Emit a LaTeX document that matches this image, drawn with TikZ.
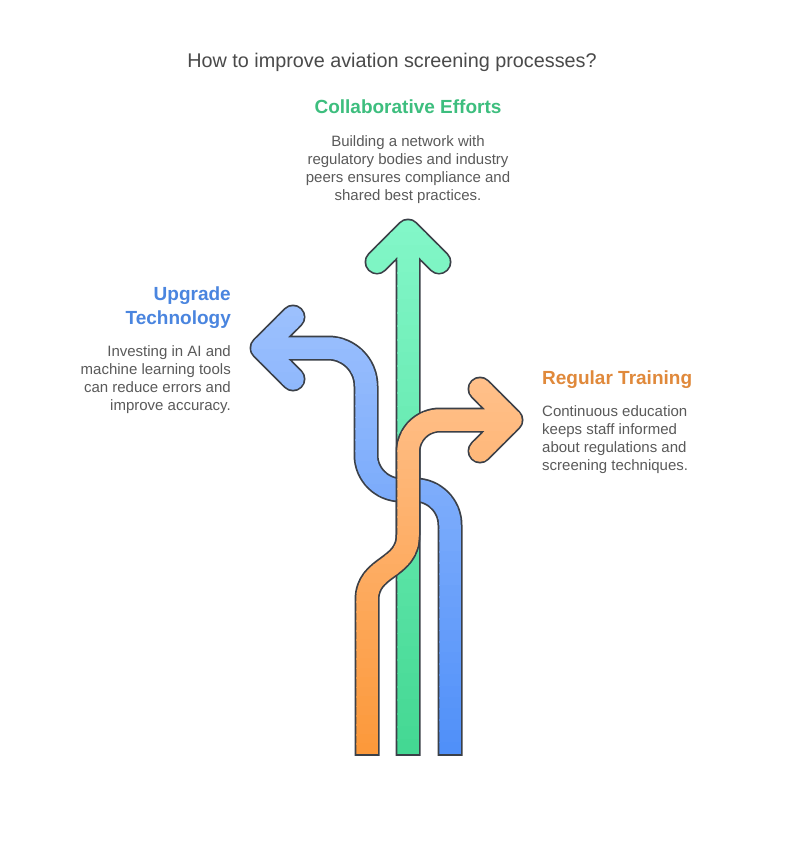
\documentclass[tikz,border=0pt]{standalone}
\usepackage{fontspec}
\setmainfont{Liberation Sans}
\definecolor{outl}{HTML}{3B4048}
\definecolor{gTop}{HTML}{82F7C8}
\definecolor{gBot}{HTML}{44D893}
\definecolor{bTop}{HTML}{9CC0FD}
\definecolor{bBot}{HTML}{5090F9}
\definecolor{oTop}{HTML}{FFC08A}
\definecolor{oBot}{HTML}{FC993B}
\definecolor{ttl}{HTML}{4A4A4A}
\definecolor{bodytxt}{HTML}{5A5A5A}
\definecolor{gHead}{HTML}{3DBE7E}
\definecolor{bHead}{HTML}{4A85DF}
\definecolor{oHead}{HTML}{E0893B}
\newcommand\arrowG[1]{\draw[#1] (377,262) -- (408,231) -- (439,262) (408,231) -- (408,775);}
\newcommand\arrowB[1]{\draw[#1] (293,317) -- (262,348) -- (293,379) (262,348) -- (328,348)
  .. controls (349,348) and (366,365) .. (366,386) -- (366,455)
  .. controls (366,474.3) and (381.7,490) .. (401,490) -- (415,490)
  .. controls (434.3,490) and (450,505.7) .. (450,525) -- (450,775);}
\newcommand\arrowO[1]{\draw[#1] (480,389) -- (511,420) -- (480,451) (511,420) -- (440,420)
  .. controls (422.3,420) and (408,434.3) .. (408,452) -- (408,535)
  .. controls (408,570) and (367,565) .. (367,600) -- (367,775);}
\newcommand\gradarrow[4]{%
  \begin{scope}
    \clip (0,0) rectangle (785,755);
    #1{draw=outl, line width=25pt, line cap=round, line join=round}
  \end{scope}
  \pgfmathsetmacro\stripH{(753.3-#4)/40}
  \foreach \i in {0,...,39}{%
    \pgfmathsetmacro\ya{#4+\i*\stripH}
    \pgfmathsetmacro\yb{min(\ya+\stripH+0.8,753.3)}
    \pgfmathtruncatemacro\pc{100*\i/39}
    \begin{scope}
      \clip (0,\ya) rectangle (785,\yb);
      #1{draw=#3!\pc!#2, line width=21.5pt, line cap=round, line join=round}
    \end{scope}
  }%
}
\tikzset{
  headtxt/.style={font=\fontsize{19}{24}\selectfont\bfseries, inner sep=0pt},
  bodystyle/.style={font=\fontsize{15}{18}\selectfont, text=bodytxt, inner sep=0pt},
}
\begin{document}
\begin{tikzpicture}[x=1pt,y=-1pt]
\fill[white] (0,0) rectangle (785,860);
\useasboundingbox (0,0) rectangle (785,860);
\gradarrow{\arrowG}{gTop}{gBot}{219}
\gradarrow{\arrowB}{bTop}{bBot}{305}
\gradarrow{\arrowO}{oTop}{oBot}{375}
\node[font=\fontsize{19.8}{24}\selectfont, text=ttl, inner sep=0pt] (title) at (392,62) {How to improve aviation screening processes?};
\node[headtxt, text=gHead, anchor=north] (collabH) at (408,99.5) {Collaborative Efforts};
\node[bodystyle, align=center, anchor=north] (collabB) at (408,135.5) {Building a network with\\regulatory bodies and industry\\peers ensures compliance and\\shared best practices.};
\node[headtxt, text=bHead, anchor=north east, align=right] (upH) at (231,286.5) {Upgrade\\Technology};
\node[bodystyle, align=right, anchor=north east] (upB) at (231,345.5) {Investing in AI and\\machine learning tools\\can reduce errors and\\improve accuracy.};
\node[headtxt, text=oHead, anchor=north west] (regH) at (542,370.5) {Regular Training};
\node[bodystyle, align=left, anchor=north west] (regB) at (542,405.5) {Continuous education\\keeps staff informed\\about regulations and\\screening techniques.};
\end{tikzpicture}
\end{document}
